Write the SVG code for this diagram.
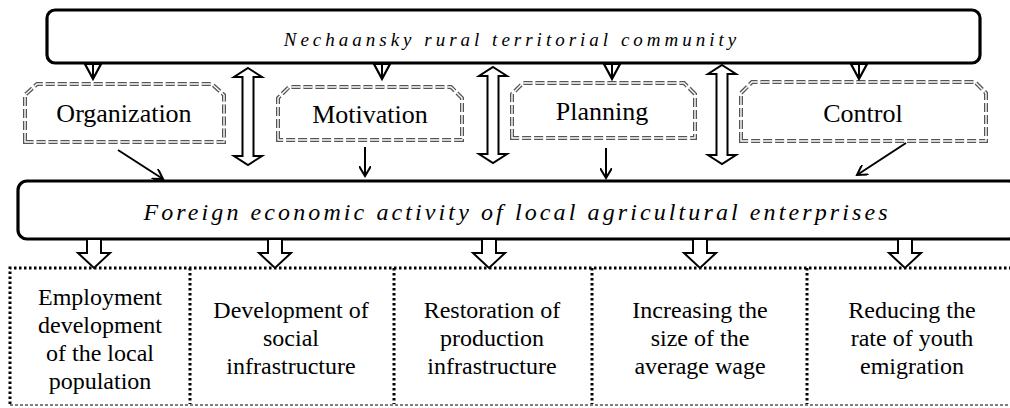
<svg xmlns="http://www.w3.org/2000/svg" width="1010" height="408" viewBox="0 0 1010 408">
<style>
.bg{fill:#fff}
.main{fill:#fff;stroke:#000;stroke-width:3.2}
.title{font-family:"Liberation Serif","Times New Roman",Tinos,"DejaVu Serif",serif;font-style:italic;fill:#000;text-anchor:middle}
.lbl{font-family:"Liberation Serif","Times New Roman",Tinos,"DejaVu Serif",serif;font-size:26px;fill:#000;text-anchor:middle}
.txt{font-family:"Liberation Serif","Times New Roman",Tinos,"DejaVu Serif",serif;font-size:24px;fill:#000;text-anchor:middle}
.dbl1{fill:#fff;stroke:#555;stroke-width:4;stroke-dasharray:9 3}
.dbl2{fill:none;stroke:#fff;stroke-width:1.4;stroke-dasharray:9 3}
.dot{fill:none;stroke:#000;stroke-width:3;stroke-dasharray:2.5 2.5}
.thin{fill:none;stroke:#000;stroke-width:1;stroke-dasharray:3 2}
.hollow{fill:#fff;stroke:#000;stroke-width:2;stroke-linejoin:miter}
.tri{fill:none;stroke:#000;stroke-width:2.2;stroke-linejoin:miter}
.ln{fill:none;stroke:#000;stroke-width:2}
</style>
<defs>
<marker id="open" markerWidth="12" markerHeight="12" refX="10" refY="6" orient="auto" markerUnits="userSpaceOnUse">
<path d="M0,0 L10,6 L0,12" fill="none" stroke="#000" stroke-width="2"/>
</marker>
</defs>
<rect class="bg" x="0" y="0" width="1010" height="408"/>

<g id="community">
<rect class="main" x="47" y="10" width="933" height="53" rx="8"/>
<text class="title" x="512" y="46" font-size="19" letter-spacing="4">Nechaansky rural territorial community</text>
</g>

<g id="organization">
<path class="dbl1" d="M25,142 L25,95 L37,84 L212,84 L224,95 L224,142 Z"/>
<path class="dbl2" d="M25,142 L25,95 L37,84 L212,84 L224,95 L224,142 Z"/>
<text class="lbl" x="124" y="122">Organization</text>
</g>
<g id="motivation">
<path class="dbl1" d="M278,140 L278,98 L289,87 L451,87 L462,98 L462,140 Z"/>
<path class="dbl2" d="M278,140 L278,98 L289,87 L451,87 L462,98 L462,140 Z"/>
<text class="lbl" x="370" y="123">Motivation</text>
</g>
<g id="planning">
<path class="dbl1" d="M512,138 L512,94 L523,83 L684,83 L695,94 L695,138 Z"/>
<path class="dbl2" d="M512,138 L512,94 L523,83 L684,83 L695,94 L695,138 Z"/>
<text class="lbl" x="602" y="120">Planning</text>
</g>
<g id="control">
<path class="dbl1" d="M741,141 L741,93 L752,82 L975,82 L986,93 L986,141 Z"/>
<path class="dbl2" d="M741,141 L741,93 L752,82 L975,82 L986,93 L986,141 Z"/>
<text class="lbl" x="863" y="122">Control</text>
</g>

<g id="foreign">
<rect class="main" x="18" y="181" width="1000" height="58" rx="9"/>
<text class="title" x="517" y="220" font-size="24" letter-spacing="3.1">Foreign economic activity of local agricultural enterprises</text>
</g>

<g id="results">
<g id="r1"><text class="txt" x="100" y="305">Employment</text><text class="txt" x="100" y="333">development</text><text class="txt" x="100" y="361">of the local</text><text class="txt" x="100" y="389">population</text></g>
<g id="r2"><text class="txt" x="291" y="318">Development of</text><text class="txt" x="291" y="346">social</text><text class="txt" x="291" y="374">infrastructure</text></g>
<g id="r3"><text class="txt" x="492" y="318">Restoration of</text><text class="txt" x="492" y="346">production</text><text class="txt" x="492" y="374">infrastructure</text></g>
<g id="r4"><text class="txt" x="700" y="318">Increasing the</text><text class="txt" x="700" y="346">size of the</text><text class="txt" x="700" y="374">average wage</text></g>
<g id="r5"><text class="txt" x="912" y="318">Reducing the</text><text class="txt" x="912" y="346">rate of youth</text><text class="txt" x="912" y="374">emigration</text></g>
<path class="thin" d="M10,405 L1010,405"/>
<path class="dot" d="M10,404 L10,268 L1010,268 M190,268 L190,404 M394,268 L394,404 M592,268 L592,404 M807,268 L807,404"/>
</g>

<g id="connectors">
<line class="ln" x1="93" y1="64" x2="93" y2="79"/><path class="tri" d="M85,64 L101,64 L93,79 Z"/>
<line class="ln" x1="382" y1="64" x2="382" y2="79"/><path class="tri" d="M374,64 L390,64 L382,79 Z"/>
<line class="ln" x1="612" y1="64" x2="612" y2="79"/><path class="tri" d="M604,64 L620,64 L612,79 Z"/>
<line class="ln" x1="859" y1="64" x2="859" y2="79"/><path class="tri" d="M851,64 L867,64 L859,79 Z"/>
<path class="hollow" d="M248,68 L262,77 L253.5,77 L253.5,156 L262,156 L248,165 L234,156 L242.5,156 L242.5,77 L234,77 Z"/>
<path class="hollow" d="M493,67 L507,76 L498.5,76 L498.5,154 L507,154 L493,163 L479,154 L487.5,154 L487.5,76 L479,76 Z"/>
<path class="hollow" d="M722,65 L736,74 L727.5,74 L727.5,155 L736,155 L722,164 L708,155 L716.5,155 L716.5,74 L708,74 Z"/>
<line class="ln" x1="118" y1="150" x2="163" y2="179" marker-end="url(#open)"/>
<line class="ln" x1="365" y1="147" x2="365" y2="176" marker-end="url(#open)"/>
<line class="ln" x1="606" y1="148" x2="606" y2="178" marker-end="url(#open)"/>
<line class="ln" x1="906" y1="143" x2="857" y2="175" marker-end="url(#open)"/>
<path class="hollow" d="M87,240 L87,253 L78,253 L94,268 L110,253 L101,253 L101,240"/>
<path class="hollow" d="M268,240 L268,253 L259,253 L275,268 L291,253 L282,253 L282,240"/>
<path class="hollow" d="M482,240 L482,253 L473,253 L489,268 L505,253 L496,253 L496,240"/>
<path class="hollow" d="M693,240 L693,253 L684,253 L700,268 L716,253 L707,253 L707,240"/>
<path class="hollow" d="M898,240 L898,253 L889,253 L905,268 L921,253 L912,253 L912,240"/>
</g>
</svg>
